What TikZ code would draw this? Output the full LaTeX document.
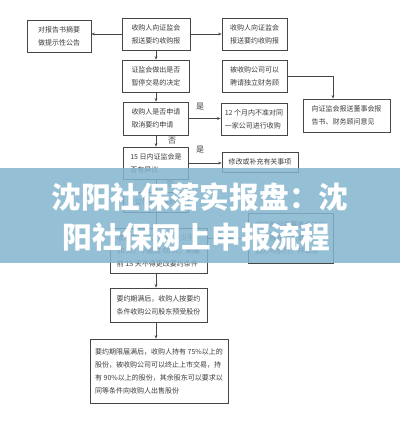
\documentclass[tikz,border=0pt]{standalone}
\usepackage{fontspec}
\usepackage{tikz}
\usetikzlibrary{arrows.meta}
\newfontfamily\cjk{Noto Sans CJK SC}
\definecolor{boxline}{RGB}{70,70,70}
\definecolor{boxtext}{RGB}{60,60,60}
\definecolor{banner}{RGB}{131,180,206}

\begin{document}
\begin{tikzpicture}[x=1pt,y=-1pt,
  flowbox/.style={draw=boxline,line width=0.6pt,fill=white,align=left,
    inner sep=0pt,text=boxtext,font={\cjk\fontsize{7}{13}\selectfont}},
  flowarrow/.style={draw=boxline,line width=0.6pt,-{Stealth[length=3.5pt,width=2.6pt]}},
  yesno/.style={text=boxtext,font={\cjk\fontsize{8}{9}\selectfont}}]

  \useasboundingbox (0,0) rectangle (400,432);
  \fill[white] (0,0) rectangle (400,432);

  % upper part of the flow
  \node [flowbox,minimum width=64pt,minimum height=32pt] (notice) at (59,36) {对报告书摘要\\做提示性公告};
  \node [flowbox,minimum width=68pt,minimum height=32pt] (report) at (156,34) {收购人向证监会\\报送要约收购报};
  \node [flowbox,minimum width=65pt,minimum height=32pt] (reportR) at (254.5,34) {收购人向证监会\\报送要约收购报};
  \node [flowbox,minimum width=67pt,minimum height=32pt] (halt) at (156,76) {证监会做出是否\\暂停交易的决定};
  \node [flowbox,minimum width=65pt,minimum height=32pt] (advisor) at (254.5,76) {被收购公司可以\\聘请独立财务顾};
  \node [flowbox,minimum width=87pt,minimum height=33pt] (board) at (346.5,115.5) {向证监会报送董事会报\\告书、财务顾问意见};
  \node [flowbox,minimum width=65pt,minimum height=33pt] (cancel) at (156,118.5) {收购人是否申请\\取消要约申请};
  \node [flowbox,minimum width=66pt,minimum height=32pt] (ban) at (254,119) {12 个月内不准对同\\一家公司进行收购};
  \node [flowbox,minimum width=65pt,minimum height=32pt] (object) at (156,163) {15 日内证监会是\\否有异议};
  \node [flowbox,minimum width=76pt,minimum height=20pt] (amend) at (260,162) {修改或补充有关事项};
  \node [flowbox,minimum width=65pt,minimum height=20pt] (announce) at (156,202) {公告收购要约};
  \node [flowbox,minimum width=97pt,minimum height=45pt] (period) at (158.5,250.5) {收购要约约定期限不少于\\30 天，不超过 60 天，期届\\前 15 天不得更改要约条件};
  \node [flowbox,minimum width=85pt,minimum height=50pt] (meeting) at (290.5,238) {被收购公司董事会决议\\须经股东大会批准\\后方可执行，并公告};

  % lower part of the flow
  \node [flowbox,minimum width=97pt,minimum height=34pt] (expire) at (158.5,305) {要约期满后，收购人按要约\\条件收购公司股东预受股份};
  \node [flowbox,minimum width=138pt,minimum height=64pt] (final) at (159,371) {要约期限届满后，收购人持有 75\%以上的\\股份，被收购公司可以终止上市交易，持\\有 90\%以上的股份，其余股东可以要求以\\同等条件向收购人出售股份};

  \draw [flowarrow] (report.west) -- (report.west -| notice.east);
  \draw [flowarrow] (report.east) -- (report.east -| reportR.west);
  \draw [flowarrow] (report.south) -- (report.south |- halt.north);
  \draw [flowarrow] (advisor.east) -| ([xshift=-13.5pt]board.north);
  \draw [flowarrow] (halt.south) -- (halt.south |- cancel.north);
  \draw [flowarrow] (cancel.east) -- (cancel.east -| ban.west);
  \draw [flowarrow] (cancel.south) -- (cancel.south |- object.north);
  \draw [flowarrow] (object.east) -- (object.east -| amend.west);
  \draw [flowarrow] (object.south) -- (object.south |- announce.north);
  \draw [flowarrow] (announce.south) -- (announce.south |- period.north);
  \draw [flowarrow] (period.east |- meeting.west) -- (meeting.west);
  \draw [flowarrow] (period.south -| announce.south) -- (announce.south |- expire.north);
  \draw [flowarrow] (expire.south -| announce.south) -- (announce.south |- final.north);

  \node [yesno] (yes1) at (200,107) {是};
  \node [yesno] (no1) at (172,141) {否};
  \node [yesno] (yes2) at (200,150) {是};
  \node [yesno] (no2) at (170,184) {否};

  % title banner over the chart
  \fill [banner,opacity=0.85] (0,168) rectangle (400,263);
  \node [text=white,font={\cjk\bfseries\fontsize{29.7}{30}\selectfont}] (title1) at (200,197) {沈阳社保落实报盘：沈};
  \node [text=white,font={\cjk\bfseries\fontsize{29.7}{30}\selectfont}] (title2) at (196.5,237) {阳社保网上申报流程};

\end{tikzpicture}
\end{document}
